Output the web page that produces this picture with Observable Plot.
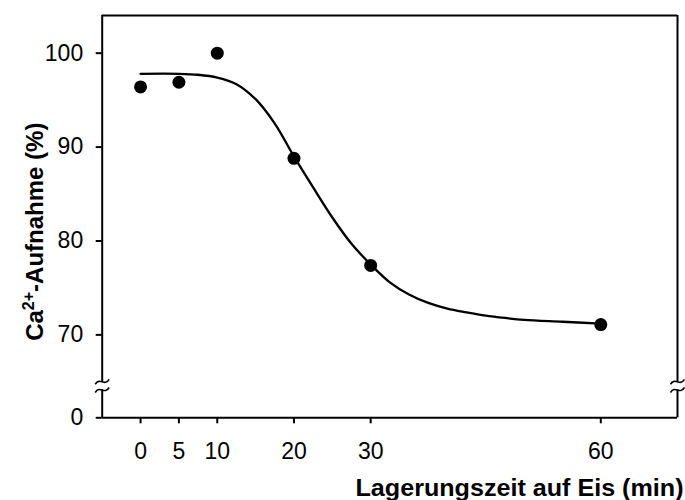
<!DOCTYPE html>
<html><head><meta charset="utf-8">
<script src="https://cdn.jsdelivr.net/npm/d3@7"></script>
<script src="https://cdn.jsdelivr.net/npm/@observablehq/plot@0.6"></script>
<style>body{margin:0;background:#fff}</style>
</head><body><div id="chart"></div>
<script>
const times = [0, 5, 10, 20, 30, 60];
const uptake = [96.4, 96.9, 100.0, 88.8, 77.4, 71.1];
const fitTimes = [0, 5, 7.5, 10, 12.5, 15, 17.5, 20, 22.5, 25, 27.5, 30, 32.5, 35, 37.5, 40, 42.5, 45, 47.5, 50, 55, 60];
const fitUptake = [97.8, 97.8, 97.7, 97.4, 96.7, 95.1, 92.5, 89.0, 85.7, 82.5, 79.7, 77.5, 75.6, 74.3, 73.4, 72.8, 72.4, 72.05, 71.8, 71.6, 71.4, 71.2];
const xTicks = [0, 5, 10, 20, 30, 60];
const yTicks = [0, 70, 80, 90, 100];
const xDomain = [-5, 70];
const yLower = [0, 3];    // segment below the axis break
const yUpper = [65, 104]; // segment above the axis break
const xLabel = "Lagerungszeit auf Eis (min)";
const yLabelParts = ["Ca", "2+", "-Aufnahme (%)"]; // base, superscript, rest
const yLabel = yLabelParts.join("");

// broken y axis: the lower segment is squeezed just beneath the upper one
const lowStart = 61.17, lowEnd = 64.13;
const brokenY = v => v <= yLower[1]
  ? lowStart + (v - yLower[0]) * (lowEnd - lowStart) / (yLower[1] - yLower[0])
  : v;
const yTickPos = yTicks.map(brokenY);

const points = times.map((t, i) => ({t, v: uptake[i]}));
const fit = fitTimes.map((t, i) => ({t, v: fitUptake[i]}));
const breakMarks = [];
for (const x of xDomain) for (const y of [yLower[1], yUpper[0]]) breakMarks.push({x, y: brokenY(y)});

const tilde = {
  draw(ctx, size) {
    const r = Math.sqrt(size / Math.PI);
    ctx.moveTo(-r, r * 0.35);
    ctx.bezierCurveTo(-r * 0.3, -r * 0.75, r * 0.3, r * 0.75, r, -r * 0.35);
  }
};

const W = 685, H = 500;
const chart = Plot.plot({
  width: W, height: H,
  marginTop: 15.1, marginBottom: 82.7, marginLeft: 101.7, marginRight: 8,
  style: {fontFamily: "'Liberation Sans', Arial, sans-serif", fontSize: "23px", background: "white", color: "black"},
  x: {domain: xDomain},
  y: {domain: [lowStart, yUpper[1]]},
  marks: [
    Plot.ruleY([brokenY(yLower[0]), yUpper[1]], {x1: xDomain[0], x2: xDomain[1], strokeWidth: 2}),
    Plot.ruleX(xDomain, {y1: brokenY(yLower[0]), y2: brokenY(yLower[1]), strokeWidth: 2}),
    Plot.ruleX(xDomain, {y1: yUpper[0], y2: yUpper[1], strokeWidth: 2}),
    Plot.dot(breakMarks, {x: "x", y: "y", symbol: tilde, r: 7, fill: "none", stroke: "black", strokeWidth: 1.6}),
    Plot.axisX({ticks: xTicks, tickSize: 6, tickPadding: 18.7, fontSize: 23, strokeWidth: 2, label: null}),
    Plot.axisY({ticks: yTickPos, tickSize: 6, tickPadding: 13, fontSize: 23, strokeWidth: 2, label: null,
      tickFormat: d => String(yTicks[yTickPos.indexOf(d)])}),
    Plot.line(fit, {x: "t", y: d => brokenY(d.v), curve: "catmull-rom", strokeWidth: 2.3}),
    Plot.dot(points, {x: "t", y: d => brokenY(d.v), r: 6.5, fill: "black"}),
    Plot.text([xLabel], {text: d => d, frameAnchor: "bottom-right", textAnchor: "end", lineAnchor: "bottom", dx: 6, dy: 77.8, fontWeight: "bold", fontSize: 24}),
    Plot.text([yLabel], {text: d => d, frameAnchor: "left", rotate: -90, textAnchor: "middle", lineAnchor: "bottom", dx: -58.7, dy: 15, fontWeight: "bold", fontSize: 24})
  ]
});
const svg = d3.select(chart);
svg.selectAll("text")
  .filter(function() { return this.textContent === xLabel; })
  .attr("textLength", 328).attr("lengthAdjust", "spacingAndGlyphs");
svg.selectAll("text")
  .filter(function() { return this.textContent === yLabel; })
  .each(function() {
    const t = d3.select(this);
    t.text(null);
    t.append("tspan").text(yLabelParts[0]);
    t.append("tspan").attr("dy", -9).attr("font-size", 16).text(yLabelParts[1]);
    t.append("tspan").attr("dy", 9).text(yLabelParts[2]);
  });
document.getElementById("chart").appendChild(chart);
</script>
</body></html>
